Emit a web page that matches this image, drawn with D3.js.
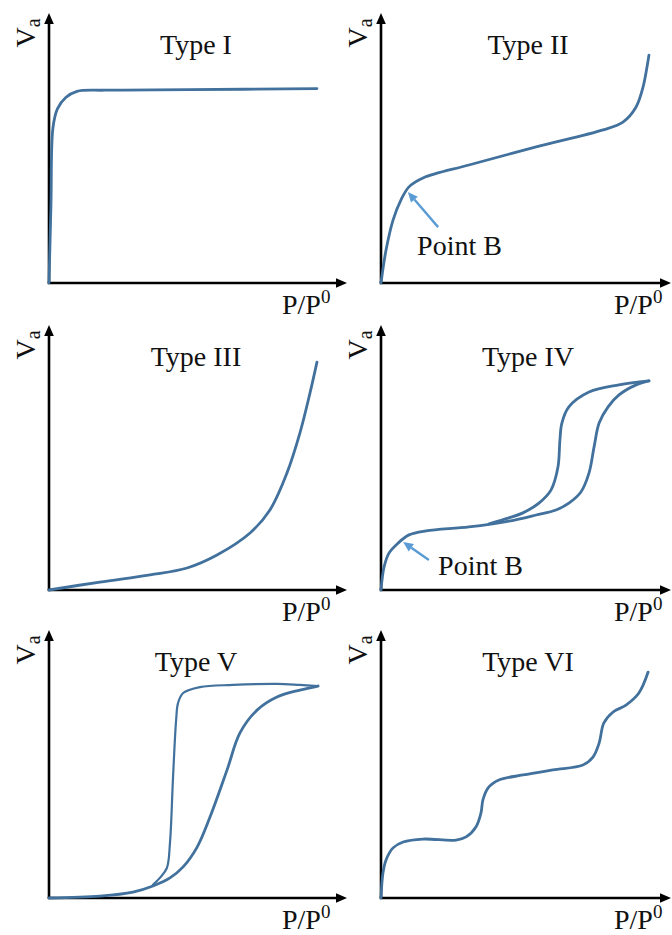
<!DOCTYPE html>
<html>
<head>
<meta charset="utf-8">
<script src="https://cdn.jsdelivr.net/npm/d3@7"></script>
<style>
  html, body { margin: 0; padding: 0; background: #fff; }
  svg { display: block; }
</style>
</head>
<body>
<svg id="chart" width="672" height="935"></svg>
<script>
// Six IUPAC adsorption isotherm types: adsorbed volume V_a against relative pressure P/P0.
// Curves are given in normalised units (0..1 on both axes of each panel).

const panelTitles = ["Type I", "Type II", "Type III", "Type IV", "Type V", "Type VI"];
const yLabelMain = "V";
const yLabelSub = "a";
const xLabelMain = "P/P";
const xLabelSup = "0";

const typeI = [[0, 0], [0.007, 0.29], [0.014, 0.574], [0.03, 0.645], [0.06, 0.687],
  [0.1, 0.71], [0.2, 0.714], [0.5, 0.716], [0.957, 0.72]];

const typeII = [[0, 0], [0.018, 0.122], [0.043, 0.233], [0.071, 0.307], [0.1, 0.356],
  [0.15, 0.389], [0.314, 0.437], [0.554, 0.504], [0.793, 0.567], [0.864, 0.596],
  [0.911, 0.652], [0.936, 0.726], [0.95, 0.8], [0.957, 0.844]];

const typeIII = [[0, 0], [0.182, 0.03], [0.361, 0.057], [0.493, 0.083], [0.6, 0.132],
  [0.718, 0.215], [0.789, 0.302], [0.85, 0.442], [0.896, 0.592], [0.932, 0.743], [0.957, 0.86]];

const typeIVAdsorption = [[0, 0], [0.011, 0.087], [0.029, 0.14], [0.061, 0.177], [0.1, 0.208],
  [0.161, 0.223], [0.314, 0.238], [0.457, 0.26], [0.554, 0.283], [0.625, 0.302],
  [0.671, 0.328], [0.714, 0.37], [0.743, 0.442], [0.761, 0.54], [0.779, 0.63],
  [0.811, 0.691], [0.85, 0.736], [0.911, 0.774], [0.957, 0.789]];
const typeIVDesorption = [[0.957, 0.789], [0.85, 0.774], [0.743, 0.747], [0.671, 0.691],
  [0.646, 0.63], [0.639, 0.566], [0.632, 0.464], [0.607, 0.377], [0.564, 0.328],
  [0.507, 0.291], [0.457, 0.272], [0.386, 0.25]];

const typeVAdsorption = [[0, 0], [0.182, 0.007], [0.3, 0.022], [0.371, 0.045], [0.432, 0.075],
  [0.479, 0.116], [0.529, 0.19], [0.575, 0.302], [0.636, 0.478], [0.682, 0.616],
  [0.743, 0.701], [0.814, 0.75], [0.896, 0.776], [0.961, 0.791]];
const typeVDesorption = [[0.961, 0.791], [0.896, 0.795], [0.814, 0.799], [0.657, 0.795],
  [0.539, 0.787], [0.479, 0.765], [0.461, 0.728], [0.454, 0.664], [0.443, 0.451],
  [0.432, 0.205], [0.421, 0.112], [0.396, 0.075], [0.371, 0.049]];

const typeVI = [[0, 0], [0.007, 0.093], [0.018, 0.142], [0.043, 0.187], [0.079, 0.209],
  [0.15, 0.22], [0.268, 0.216], [0.304, 0.228], [0.339, 0.265], [0.357, 0.317],
  [0.364, 0.366], [0.382, 0.41], [0.421, 0.44], [0.507, 0.459], [0.614, 0.478],
  [0.721, 0.496], [0.757, 0.526], [0.779, 0.578], [0.796, 0.653], [0.829, 0.694],
  [0.875, 0.72], [0.921, 0.765], [0.954, 0.843]];

// curves per panel: [points, stroke width]
const panelCurves = [
  [[typeI, 2.8]],
  [[typeII, 2.8]],
  [[typeIII, 2.8]],
  [[typeIVAdsorption, 2.8], [typeIVDesorption, 2.8]],
  [[typeVAdsorption, 2.8], [typeVDesorption, 2.2]],
  [[typeVI, 2.8]]
];

// "Point B" annotations: panel index, label anchor, arrow tail, arrow tip
const pointBLabel = "Point B";
const pointBNotes = [
  { panel: 1, label: [0.129, 0.104], tail: [0.204, 0.207], tip: [0.096, 0.337] },
  { panel: 3, label: [0.204, 0.057], tail: [0.171, 0.113], tip: [0.079, 0.181] }
];

// ---- layout ----
const colX = [49, 381];        // y-axis position of each column
const colEnd = [347, 671];     // x-axis arrow tip of each column
const rowY = [283, 590, 898];  // x-axis position of each row
const rowTop = [13, 325, 630]; // y-axis arrow tip of each row
const plotW = 280;

const FONT = '"Liberation Serif", "Times New Roman", serif';
const CURVE = "#41719c";
const NOTE = "#5b9bd5";

const svg = d3.select("#chart");

const line = d3.line()
  .curve(d3.curveCatmullRom.alpha(0.5));

panelTitles.forEach((title, i) => {
  const c = i % 2, r = Math.floor(i / 2);
  const x0 = colX[c], y0 = rowY[r], top = rowTop[r];
  const x = d3.scaleLinear().domain([0, 1]).range([x0, x0 + plotW]);
  const y = d3.scaleLinear().domain([0, 1]).range([y0, top]);
  const g = svg.append("g");

  // axes with arrowheads
  g.append("line").attr("x1", x0).attr("y1", y0).attr("x2", x0).attr("y2", top + 6)
    .attr("stroke", "#000").attr("stroke-width", 2.6);
  g.append("line").attr("x1", x0 - 1.3).attr("y1", y0).attr("x2", colEnd[c] - 6).attr("y2", y0)
    .attr("stroke", "#000").attr("stroke-width", 2.6);
  g.append("path")
    .attr("d", `M${x0},${top} L${x0 - 4.8},${top + 11} L${x0 + 4.8},${top + 11} Z`)
    .attr("fill", "#000");
  g.append("path")
    .attr("d", `M${colEnd[c]},${y0} L${colEnd[c] - 11},${y0 - 4.8} L${colEnd[c] - 11},${y0 + 4.8} Z`)
    .attr("fill", "#000");

  // curves
  line.x(d => x(d[0])).y(d => y(d[1]));
  panelCurves[i].forEach(([pts, w]) => {
    g.append("path").datum(pts)
      .attr("d", line)
      .attr("fill", "none")
      .attr("stroke", CURVE)
      .attr("stroke-width", w)
      .attr("stroke-linejoin", "round")
      .attr("stroke-linecap", "round");
  });

  // title
  g.append("text")
    .attr("x", x0 + 147).attr("y", top + 41)
    .attr("text-anchor", "middle")
    .attr("font-family", FONT).attr("font-size", 28)
    .attr("fill", "#111")
    .text(title);

  // y label (rotated)
  const yl = g.append("text")
    .attr("transform", `translate(${x0 - 14},${top + 20}) rotate(-90)`)
    .attr("text-anchor", "middle")
    .attr("font-family", FONT).attr("font-size", 28)
    .attr("fill", "#111");
  yl.append("tspan").text(yLabelMain);
  yl.append("tspan").attr("font-size", 20).attr("dy", 5).text(yLabelSub);

  // x label
  const xl = g.append("text")
    .attr("x", x0 + 233).attr("y", y0 + 31)
    .attr("font-family", FONT).attr("font-size", 28)
    .attr("fill", "#111");
  xl.append("tspan").text(xLabelMain);
  xl.append("tspan").attr("font-size", 19).attr("dy", -11).text(xLabelSup);

  // annotations
  pointBNotes.filter(n => n.panel === i).forEach(n => {
    const tx = x(n.tail[0]), ty = y(n.tail[1]);
    const px = x(n.tip[0]), py = y(n.tip[1]);
    const ang = Math.atan2(py - ty, px - tx);
    const hl = 10, hw = 4.5;
    const bx = px - hl * Math.cos(ang), by = py - hl * Math.sin(ang);
    g.append("line").attr("x1", tx).attr("y1", ty).attr("x2", bx).attr("y2", by)
      .attr("stroke", NOTE).attr("stroke-width", 2.4);
    g.append("path")
      .attr("d", `M${px},${py} L${bx + hw * Math.sin(ang)},${by - hw * Math.cos(ang)} L${bx - hw * Math.sin(ang)},${by + hw * Math.cos(ang)} Z`)
      .attr("fill", NOTE);
    g.append("text")
      .attr("x", x(n.label[0])).attr("y", y(n.label[1]))
      .attr("font-family", FONT).attr("font-size", 28)
      .attr("fill", "#111")
      .text(pointBLabel);
  });
});
</script>
</body>
</html>
